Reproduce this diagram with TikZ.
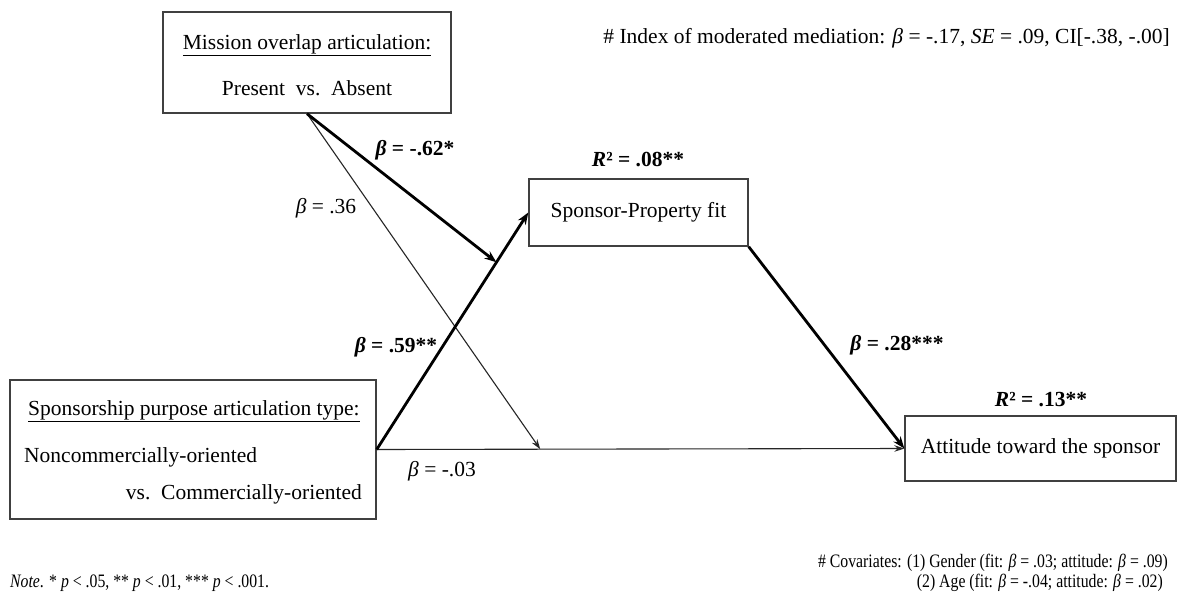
\documentclass[tikz,border=0pt]{standalone}
\usepackage{fontspec}
\setmainfont{Liberation Serif}
\usetikzlibrary{arrows.meta,calc}
\newcommand{\mybeta}{\textit{β}}
\begin{document}
\begin{tikzpicture}[x=1pt,y=-1pt,
  box/.style={draw=black!75, line width=1.4pt, rectangle, inner sep=0pt},
  txt/.style={font=\fontsize{21.5}{26}\selectfont, inner sep=0pt},
  lbl/.style={font=\fontsize{21.5}{26}\selectfont\bfseries, inner sep=0pt},
  small/.style={font=\fontsize{19}{22}\selectfont, inner sep=0pt},
  thickarrow/.style={line width=2.8pt, draw=black, -{Stealth[length=12pt,width=9pt]}},
  thinarrow/.style={line width=1.1pt, draw=black!85, -{Stealth[length=10pt,width=6.5pt]}},
]
\useasboundingbox[fill=white] (0,0) rectangle (1178,602);

% boxes
\node[box, minimum width=288pt, minimum height=101pt] (mission) at (307,62.5) {};
\node[box, minimum width=219pt, minimum height=67pt, txt] (fit) at (638.5,212.5) {Sponsor-Property fit};
\node[box, minimum width=271pt, minimum height=65pt, txt] (att) at (1040.5,448.5) {Attitude toward the sponsor};
\node[box, minimum width=366pt, minimum height=139pt] (purp) at (193,449.5) {};

% box texts
\node[txt] (mt1) at (307,45) {\underline{Mission overlap articulation:}};
\node[txt] (mt2) at (307,88) {Present\ \ vs.\ \ Absent};
\node[txt, anchor=west] (pt1) at (28,411) {\underline{Sponsorship purpose articulation type:}};
\node[txt, anchor=west] (pt2) at (24,457) {Noncommercially-oriented};
\node[txt, anchor=east] (pt3) at (362,494) {vs.\ \ Commercially-oriented};

% helper points
\coordinate (m1) at ($(purp.east)!0.79!(fit.west)$);
\coordinate (m2) at ($(purp.east)!0.31!(att.west)$);

% connectors
\draw[thinarrow] (purp.east) -- (att.west);
\draw[thinarrow] (mission.south) -- (m2);
\draw[thickarrow] (purp.east) -- (fit.west);
\draw[thickarrow] (mission.south) -- (m1);
\draw[thickarrow] (fit.south east) -- (att.west);

% labels
\node[lbl] (r1) at (638,160) {\textit{R}² = .08**};
\node[lbl] (r2) at (1041,400) {\textit{R}² = .13**};
\node[lbl] (b62) at (415,150) {\mybeta{} = -.62*};
\node[txt] (b36) at (326,208) {\mybeta{} = .36};
\node[lbl] (b59) at (396,347) {\mybeta{} = .59**};
\node[lbl] (b28) at (897,345) {\mybeta{} = .28***};
\node[txt] (b03) at (442,471) {\mybeta{} = -.03};

% notes
\node[txt, anchor=east] (idx) at (1170,38) {\# Index of moderated mediation: \mybeta{} = -.17, \textit{SE} = .09, CI[-.38, -.00]};
\node[small, anchor=west] (note) at (10,583) {\scalebox{0.83}[1]{\textit{Note}. * \textit{p} < .05, ** \textit{p} < .01, *** \textit{p} < .001.}};
\node[small, anchor=east] (cov1) at (1168,563) {\scalebox{0.83}[1]{\# Covariates: (1) Gender (fit: \mybeta{} = .03; attitude: \mybeta{} = .09)}};
\node[small, anchor=east] (cov2) at (1163,583) {\scalebox{0.83}[1]{(2) Age (fit: \mybeta{} = -.04; attitude: \mybeta{} = .02)}};
\end{tikzpicture}
\end{document}
